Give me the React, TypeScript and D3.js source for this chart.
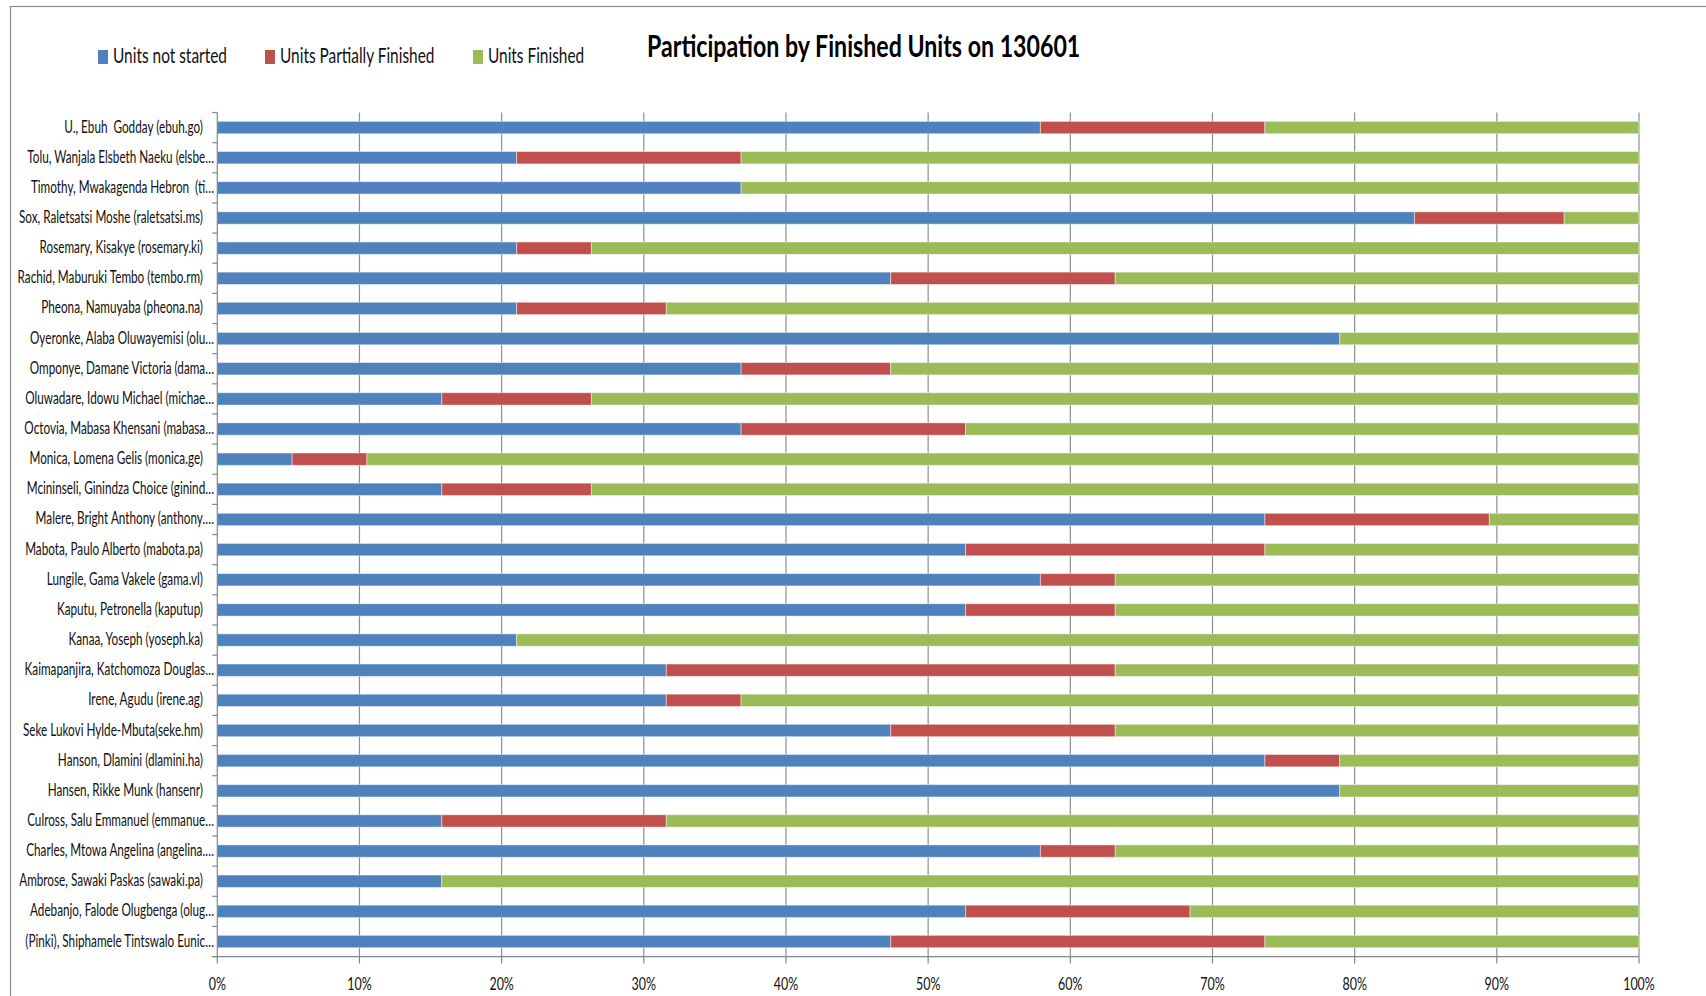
import React, { useMemo } from "react";
import * as d3 from "d3";

// chart data (units out of 19 per participant)
const participants = [
  "U., Ebuh  Godday (ebuh.go)",
  "Tolu, Wanjala Elsbeth Naeku (elsbe…",
  "Timothy, Mwakagenda Hebron  (ti…",
  "Sox, Raletsatsi Moshe (raletsatsi.ms)",
  "Rosemary, Kisakye (rosemary.ki)",
  "Rachid, Maburuki Tembo (tembo.rm)",
  "Pheona, Namuyaba (pheona.na)",
  "Oyeronke, Alaba Oluwayemisi (olu…",
  "Omponye, Damane Victoria (dama…",
  "Oluwadare, Idowu Michael (michae…",
  "Octovia, Mabasa Khensani (mabasa…",
  "Monica, Lomena Gelis (monica.ge)",
  "Mcininseli, Ginindza Choice (ginind…",
  "Malere, Bright Anthony (anthony.…",
  "Mabota, Paulo Alberto (mabota.pa)",
  "Lungile, Gama Vakele (gama.vl)",
  "Kaputu, Petronella (kaputup)",
  "Kanaa, Yoseph (yoseph.ka)",
  "Kaimapanjira, Katchomoza Douglas…",
  "Irene, Agudu (irene.ag)",
  "Seke Lukovi Hylde-Mbuta(seke.hm)",
  "Hanson, Dlamini (dlamini.ha)",
  "Hansen, Rikke Munk (hansenr)",
  "Culross, Salu Emmanuel (emmanue…",
  "Charles, Mtowa Angelina (angelina.…",
  "Ambrose, Sawaki Paskas (sawaki.pa)",
  "Adebanjo, Falode Olugbenga (olug…",
  "(Pinki), Shiphamele Tintswalo Eunic…",
];
const unitsNotStarted = [11, 4, 7, 16, 4, 9, 4, 15, 7, 3, 7, 1, 3, 14, 10, 11, 10, 4, 6, 6, 9, 14, 15, 3, 11, 3, 10, 9];
const unitsPartial = [3, 3, 0, 2, 1, 3, 2, 0, 2, 2, 3, 1, 2, 3, 4, 1, 2, 0, 6, 1, 3, 1, 0, 3, 1, 0, 3, 5];
const unitsFinished = [5, 12, 12, 1, 14, 7, 13, 4, 10, 14, 9, 17, 14, 2, 5, 7, 7, 15, 7, 12, 7, 4, 4, 13, 7, 16, 6, 5];

const seriesNames = ["Units not started", "Units Partially Finished", "Units Finished"];
const seriesColors = ["#4F81BD", "#C0504D", "#9BBB59"];
const title = "Participation by Finished Units on 130601";
const xTicks = [0, 0.1, 0.2, 0.3, 0.4, 0.5, 0.6, 0.7, 0.8, 0.9, 1];

const W = 1706,
  H = 996;
const FONT = "Lato";

let ctx: CanvasRenderingContext2D | null = null;
function textWidth(t: string, font: string) {
  if (!ctx) ctx = document.createElement("canvas").getContext("2d");
  ctx!.font = font;
  return ctx!.measureText(t).width;
}

function SqText({ x, y, sx, size, weight, anchor, children, fill }: any) {
  return (
    <text
      transform={`translate(${x},${y}) scale(${sx},1)`}
      fontFamily={FONT}
      fontSize={size}
      fontWeight={weight || "normal"}
      textAnchor={anchor || "start"}
      fill={fill || "#000"}
      style={{ whiteSpace: "pre" }}
    >
      {children}
    </text>
  );
}

export default function App() {
  const rows = participants.map((name, i) => ({
    name,
    [seriesNames[0]]: unitsNotStarted[i],
    [seriesNames[1]]: unitsPartial[i],
    [seriesNames[2]]: unitsFinished[i],
  }));
  const stacked = d3.stack<any>().keys(seriesNames).offset(d3.stackOffsetExpand)(rows);

  const x = d3.scaleLinear().domain([0, 1]).range([217.3, 1639]);
  const y = d3
    .scaleBand()
    .domain(participants)
    .range([112.5, 956.6])
    .paddingInner(0.59)
    .paddingOuter(0.295);
  const step = y.step();
  const [y0, y1] = y.range();

  // horizontal squeeze so text widths match the original
  const sc = useMemo(() => {
    return {
      title: 434 / textWidth(title, `bold 30.5px ${FONT}`),
      legend: 114 / textWidth(seriesNames[0], `21px ${FONT}`),
      label: 139 / textWidth(participants[0], `16.7px ${FONT}`),
      tick: 31.7 / textWidth("100%", `18px ${FONT}`),
    };
  }, []);

  // legend layout from text widths
  let lx = 98;
  const legendItems = seriesNames.map((s, i) => {
    const item = { s, x: lx, color: seriesColors[i] };
    lx += 15 + textWidth(s, `21px ${FONT}`) * sc.legend + 38;
    return item;
  });

  return (
    <svg width={W} height={H} style={{ position: "absolute", left: 0, top: 0, background: "#fff" }}>
      <rect x={10.5} y={6.5} width={W + 20} height={H + 20} fill="#fff" stroke="#8a8a8a" strokeWidth={1.2} />

      <SqText x={647} y={57} sx={sc.title} size={30.5} weight="bold">
        {title}
      </SqText>

      {legendItems.map((d) => (
        <g key={d.s}>
          <rect x={d.x} y={50} width={10} height={14} fill={d.color} />
          <SqText x={d.x + 15} y={63} sx={sc.legend} size={21} fill="#111">
            {d.s}
          </SqText>
        </g>
      ))}

      {/* gridlines */}
      {xTicks.slice(1).map((t) => (
        <line key={t} x1={x(t)} x2={x(t)} y1={y0} y2={y1} stroke="#8e8e8e" strokeWidth={1.2} />
      ))}

      {/* bars */}
      {stacked.map((s, si) => (
        <g key={s.key} fill={seriesColors[si]}>
          {s.map((d, i) => {
            const w = x(d[1]) - x(d[0]);
            if (w <= 0) return null;
            return (
              <rect
                key={i}
                x={x(d[0])}
                y={y(participants[i])}
                width={w}
                height={y.bandwidth()}
                stroke="rgba(255,255,255,0.45)"
                strokeWidth={1}
              />
            );
          })}
        </g>
      ))}

      {/* y axis */}
      <line x1={x(0)} x2={x(0)} y1={y0} y2={y1} stroke="#868686" strokeWidth={1.2} />
      {d3.range(participants.length + 1).map((i) => (
        <line key={i} x1={x(0) - 5} x2={x(0)} y1={y0 + i * step} y2={y0 + i * step} stroke="#868686" strokeWidth={1.2} />
      ))}
      {participants.map((p) => {
        const cut = p.endsWith("…");
        return (
          <SqText key={p} x={cut ? 214 : 203} y={(y(p) as number) + y.bandwidth() / 2 + 5} sx={sc.label} size={16.7} anchor="end" fill="#111">
            {p}
          </SqText>
        );
      })}

      {/* x axis */}
      <line x1={x(0) - 5} x2={x(1)} y1={y1} y2={y1} stroke="#868686" strokeWidth={1.2} />
      {xTicks.map((t) => (
        <g key={t}>
          <line x1={x(t)} x2={x(t)} y1={y1} y2={y1 + 7} stroke="#868686" strokeWidth={1.2} />
          <SqText x={x(t)} y={990} sx={sc.tick} size={18} anchor="middle" fill="#111">
            {d3.format(".0%")(t)}
          </SqText>
        </g>
      ))}
    </svg>
  );
}
